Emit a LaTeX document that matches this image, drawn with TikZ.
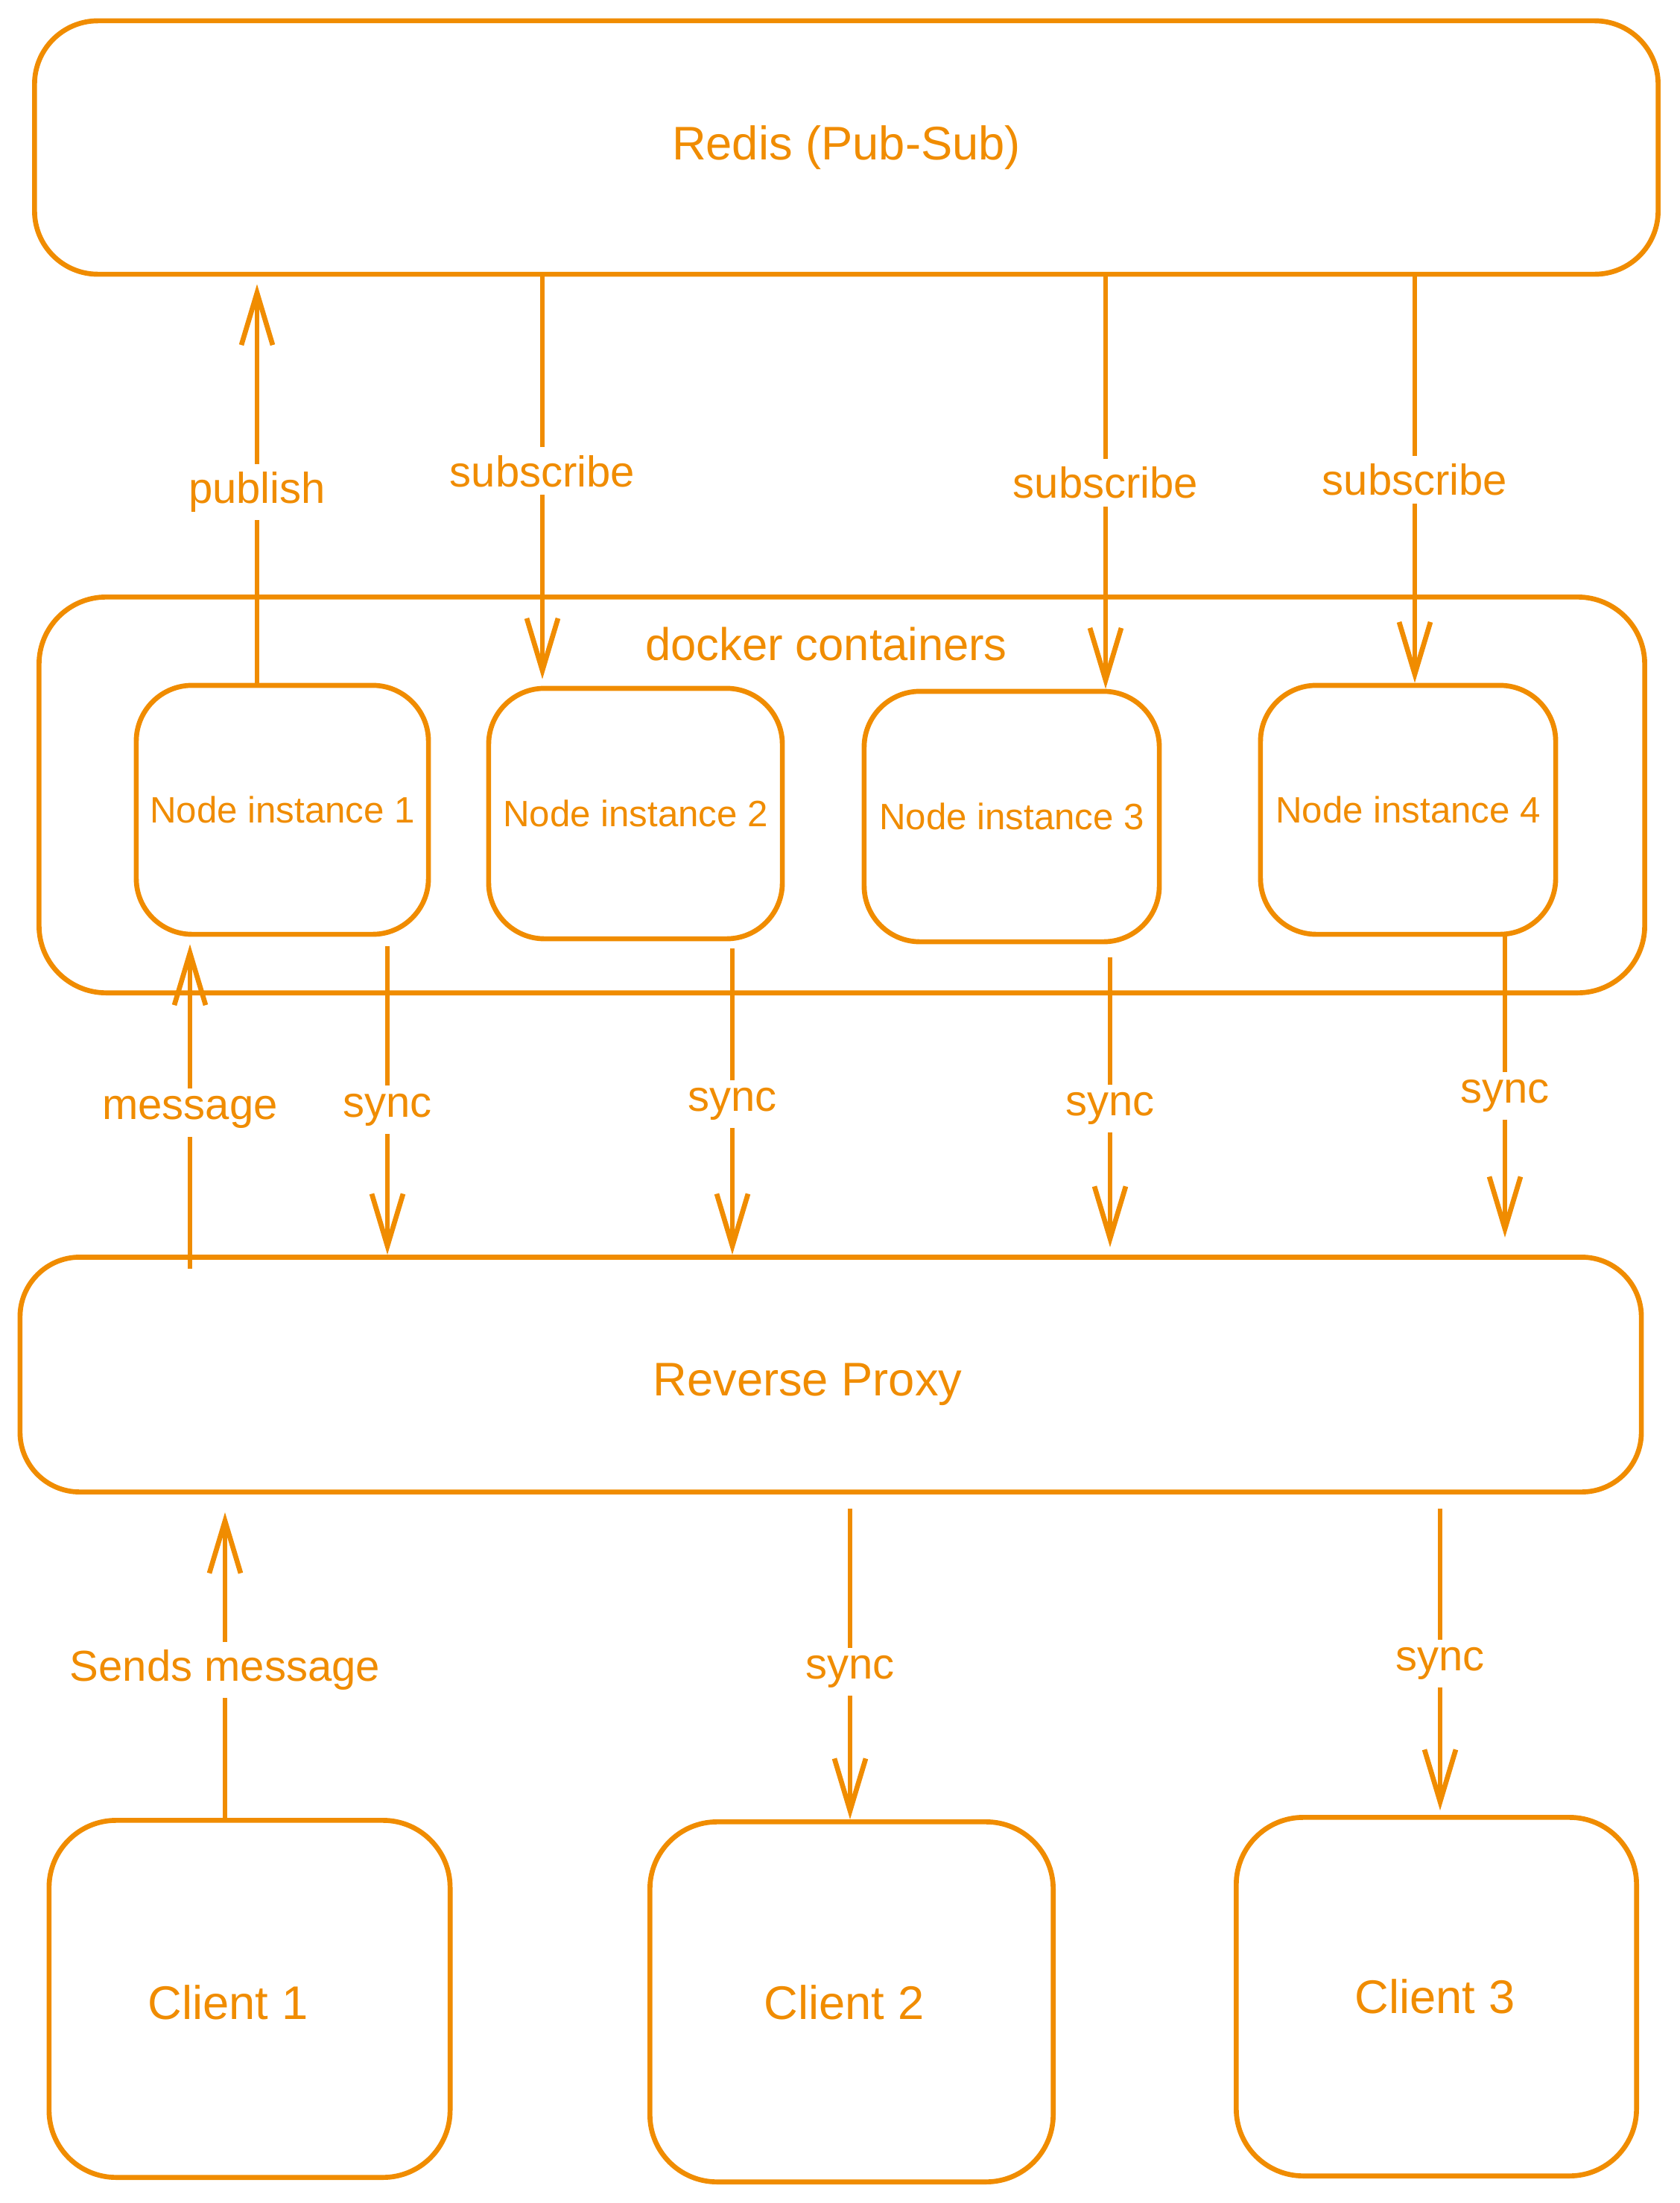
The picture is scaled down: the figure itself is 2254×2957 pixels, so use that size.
\documentclass[tikz,border=0pt]{standalone}
\usepackage{fontspec}
\setmainfont{Liberation Sans}
\usetikzlibrary{arrows.meta}
\definecolor{exo}{HTML}{F08C00}
\begin{document}
\begin{tikzpicture}[x=0.01cm,y=-0.01cm,
  box/.style={draw=exo, line width=1.9pt, text=exo, align=center, inner sep=0pt},
  bigtxt/.style={text=exo, font=\fontsize{18}{21}\selectfont},
  nodetxt/.style={font=\fontsize{14}{17}\selectfont},
  lbl/.style={fill=white, text=exo, inner sep=3pt, font=\fontsize{16.5}{19}\selectfont},
  arr/.style={draw=exo, line width=1.9pt, -{Straight Barb[length=0.7cm,width=0.42cm]}}]
\useasboundingbox (0,0) rectangle (2254,2957);
% boxes
\node[box, bigtxt, rounded corners=0.85cm, minimum width=21.78cm, minimum height=3.4cm] (redis) at (1136,198) {Redis (Pub-Sub)};
\node[box, rounded corners=0.9cm, minimum width=21.54cm, minimum height=5.31cm] (docker) at (1130,1067) {};
\node[text=exo, font=\fontsize{17.5}{20}\selectfont] (dlabel) at (1109,864) {docker containers};
\node[box, nodetxt, rounded corners=0.75cm, minimum width=3.92cm, minimum height=3.34cm] (n1) at (379,1087) {Node instance 1};
\node[box, nodetxt, rounded corners=0.75cm, minimum width=3.94cm, minimum height=3.36cm] (n2) at (853,1092) {Node instance 2};
\node[box, nodetxt, rounded corners=0.75cm, minimum width=3.96cm, minimum height=3.36cm] (n3) at (1358,1096) {Node instance 3};
\node[box, nodetxt, rounded corners=0.75cm, minimum width=3.96cm, minimum height=3.34cm] (n4) at (1890,1087) {Node instance 4};
\node[box, rounded corners=0.8cm, minimum width=21.75cm, minimum height=3.15cm] (proxy) at (1115,1845) {};
\node[bigtxt] (proxytxt) at (1084,1858) {Reverse Proxy};
\node[box, rounded corners=0.9cm, minimum width=5.38cm, minimum height=4.79cm] (c1) at (335,2683) {};
\node[bigtxt] (c1txt) at (306,2688) {Client 1};
\node[box, bigtxt, rounded corners=0.9cm, minimum width=5.41cm, minimum height=4.83cm] (c2) at (1143,2687) {};
\node[bigtxt] (c2txt) at (1133,2688) {Client 2};
\node[box, bigtxt, rounded corners=0.9cm, minimum width=5.37cm, minimum height=4.81cm] (c3) at (1928,2680) {};
\node[bigtxt] (c3txt) at (1926,2680) {Client 3};
% x positions of connectors
\coordinate (xpub) at (345,0);
\coordinate (xs1) at (728,0);
\coordinate (xs2) at (1484,0);
\coordinate (xs3) at (1899,0);
\coordinate (xmsg) at (255,0);
\coordinate (xy1) at (520,0);
\coordinate (xy2) at (983,0);
\coordinate (xy3) at (1490,0);
\coordinate (xy4) at (2020,0);
\coordinate (xsend) at (302,0);
\coordinate (xc2) at (1141,0);
\coordinate (xc3) at (1933,0);
% connectors
\draw[arr, shorten >=0.1cm] (n1.north -| xpub) -- node[lbl, pos=0.47] {publish} (redis.south -| xpub);
\draw[arr, shorten >=0.09cm] (redis.south -| xs1) -- node[lbl, pos=0.475] {subscribe} (n2.north -| xs1);
\draw[arr] (redis.south -| xs2) -- node[lbl] {subscribe} (n3.north -| xs2);
\draw[arr] (redis.south -| xs3) -- node[lbl] {subscribe} (n4.north -| xs3);
\draw[arr, shorten <=-0.19cm, shorten >=0.1cm] (proxy.north -| xmsg) -- node[lbl, pos=0.447] {message} (n1.south -| xmsg);
\draw[arr, shorten <=0.13cm] (n1.south -| xy1) -- node[lbl, pos=0.544] {sync} (proxy.north -| xy1);
\draw[arr, shorten <=0.1cm] (n2.south -| xy2) -- node[lbl, pos=0.52] {sync} (proxy.north -| xy2);
\draw[arr, shorten <=0.18cm, shorten >=0.1cm] (n3.south -| xy3) -- node[lbl, pos=0.53] {sync} (proxy.north -| xy3);
\draw[arr, shorten >=0.23cm] (n4.south -| xy4) -- node[lbl] {sync} (proxy.north -| xy4);
\draw[arr, shorten >=0.24cm] (c1.north -| xsend) -- node[lbl, pos=0.458] {Sends message} (proxy.south -| xsend);
\draw[arr, shorten <=0.19cm] (proxy.south -| xc2) -- node[lbl, pos=0.546] {sync} (c2.north -| xc2);
\draw[arr, shorten <=0.19cm, shorten >=0.06cm] (proxy.south -| xc3) -- node[lbl, pos=0.528] {sync} (c3.north -| xc3);
\end{tikzpicture}
\end{document}
